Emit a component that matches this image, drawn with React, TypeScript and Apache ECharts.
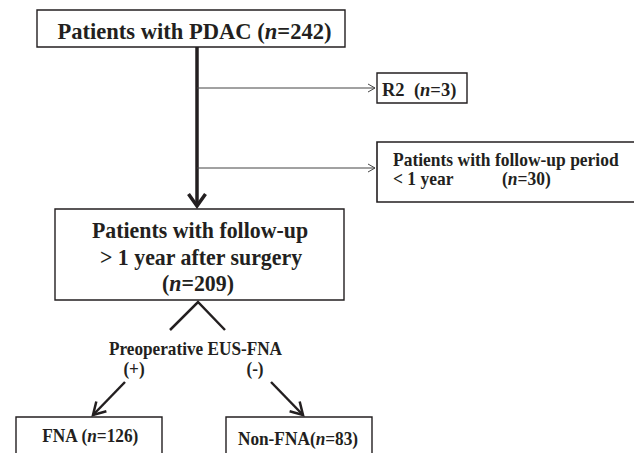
import React, { useEffect, useRef } from "react";
import * as echarts from "echarts";

// Flowchart content
const nodeNames = ["Patients with PDAC", "R2", "Patients with follow-up period", "Patients with follow-up", "FNA", "Non-FNA"];
const nodeCounts = [242, 3, 30, 209, 126, 83];
const splitLabel = "Preoperative EUS-FNA";
const splitSigns = ["(+)", "(-)"];
const followUpLines = ["> 1 year after surgery", "< 1 year"];

const INK = "#231f20";
const FAMILY = "'Liberation Serif', serif";

// builds rich text: plain segments bold, "n" italic bold
function label(prefix: string, n?: number) {
  let t = prefix ? "{b|" + prefix + "}" : "";
  if (n !== undefined) t += "{b|(}{i|n}{b|=" + n + ")}";
  return t;
}

function txt(x: number, y: number, text: string, size: number, align: string = "left", sx = 0.93) {
  return {
    type: "text",
    x,
    y,
    scaleX: sx,
    style: {
      text,
      font: "bold " + size + "px " + FAMILY,
      fill: INK,
      align,
      verticalAlign: "middle",
      rich: {
        b: { font: "bold " + size + "px " + FAMILY, fill: INK },
        i: { font: "italic bold " + size + "px " + FAMILY, fill: INK },
      },
    },
    z: 10,
  };
}

function box(x: number, y: number, w: number, h: number, lw = 1.4) {
  return {
    type: "rect",
    shape: { x, y, width: w, height: h },
    style: { fill: "#fff", stroke: INK, lineWidth: lw },
    z: 5,
  };
}

function line(x1: number, y1: number, x2: number, y2: number, lw: number, color = INK) {
  return {
    type: "line",
    shape: { x1, y1, x2, y2 },
    style: { stroke: color, lineWidth: lw },
    z: 3,
  };
}

function head(x1: number, y1: number, x2: number, y2: number, len: number, half: number, lw: number, color = INK) {
  const dx = x2 - x1;
  const dy = y2 - y1;
  const d = Math.sqrt(dx * dx + dy * dy);
  const ux = dx / d;
  const uy = dy / d;
  const bx = x2 - ux * len;
  const by = y2 - uy * len;
  return {
    type: "polyline",
    shape: {
      points: [
        [bx - uy * half, by + ux * half],
        [x2, y2],
        [bx + uy * half, by - ux * half],
      ],
    },
    style: { stroke: color, lineWidth: lw, fill: null },
    z: 4,
  };
}

function arrow(x1: number, y1: number, x2: number, y2: number, lw: number, len: number, half: number, color = INK) {
  return [line(x1, y1, x2, y2, lw, color), head(x1, y1, x2, y2, len, half, lw, color)];
}

export default function App() {
  const ref = useRef<HTMLDivElement>(null);
  useEffect(() => {
    if (!ref.current) return;
    const chart = echarts.init(ref.current, null, { renderer: "svg" });
    const elements: any[] = [
      // top box
      box(37, 10, 308, 37),
      txt(194.5, 31, label(nodeNames[0] + " ", nodeCounts[0]), 24, "center", 0.94),
      // main trunk
      ...arrow(197, 47, 197, 206, 3.5, 12, 8.5),
      // branch to R2
      ...arrow(197, 88, 375, 88, 1, 7, 4, "#444"),
      box(377, 73, 90, 30),
      txt(382, 89, label(nodeNames[1] + "  ", nodeCounts[1]), 19.5, "left", 0.95),
      // branch to short follow-up
      ...arrow(197, 168, 375, 168, 1, 7, 4, "#444"),
      box(377, 142, 270, 60, 1.6),
      txt(393, 160, label(nodeNames[2]), 18.8),
      txt(393, 179, label(followUpLines[1]), 18.8),
      txt(502, 179, label("", nodeCounts[2]), 18.8),
      // second box
      box(55, 209, 289, 91),
      txt(200, 230, label(nodeNames[3]), 23.5, "center"),
      txt(201, 257, label(followUpLines[0]), 23.5, "center"),
      txt(198, 283, label("", nodeCounts[3]), 23.5, "center"),
      // split chevron
      {
        type: "polyline",
        shape: { points: [[170, 330], [198, 302], [225, 330]] },
        style: { stroke: INK, lineWidth: 2.5, fill: null },
        z: 3,
      },
      txt(195.5, 349, label(splitLabel), 18.5, "center"),
      txt(134, 369, label(splitSigns[0]), 18.5, "center"),
      txt(255, 369, label(splitSigns[1]), 18.5, "center"),
      ...arrow(125, 382, 93, 415, 2.5, 12, 7),
      ...arrow(271, 382, 303, 415, 2.5, 12, 7),
      // bottom boxes
      box(16, 417, 146, 60),
      txt(90, 436, label(nodeNames[4] + " ", nodeCounts[4]), 18, "center", 0.96),
      box(226, 417, 146, 60),
      txt(298, 439, label(nodeNames[5], nodeCounts[5]), 18, "center", 0.96),
    ];
    chart.setOption({
      animation: false,
      backgroundColor: "#fff",
      graphic: { elements },
    });
    return () => chart.dispose();
  }, []);
  return (
    <div
      ref={ref}
      style={{ position: "fixed", left: 0, top: 0, width: 634, height: 453, background: "#fff" }}
    />
  );
}
